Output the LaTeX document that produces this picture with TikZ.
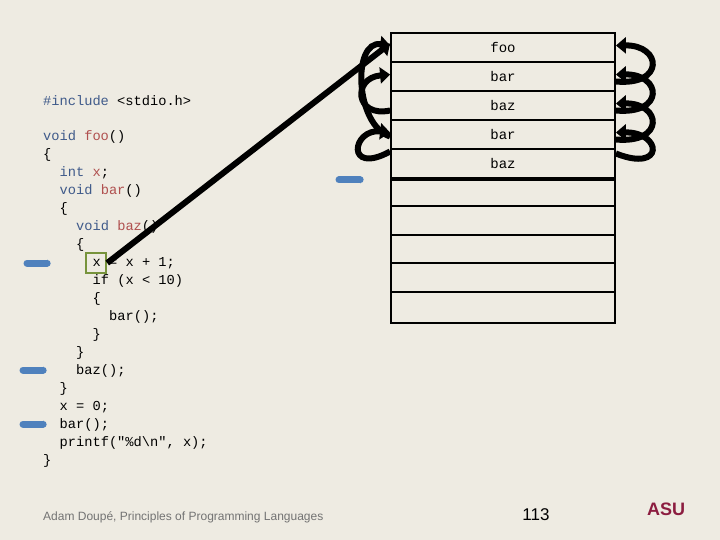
\documentclass[tikz,border=0pt]{standalone}
\usepackage{fontspec}
\setmainfont{Liberation Sans}
\newfontfamily\codefont{Liberation Mono}
\usetikzlibrary{arrows.meta}
\definecolor{bg}{HTML}{EEEBE2}
\definecolor{kw}{HTML}{3F5A8A}
\definecolor{idc}{HTML}{B0504F}
\definecolor{ptr}{HTML}{4F81BD}
\definecolor{asu}{HTML}{8C1D40}
\newcommand{\K}[1]{\textcolor{kw}{#1}}
\newcommand{\I}[1]{\textcolor{idc}{#1}}
\begin{document}
\begin{tikzpicture}[x=1pt,y=-1pt,
  code/.style={anchor=west,inner sep=0pt,font=\codefont\fontsize{13.7}{16}\selectfont},
  frame/.style={draw=black,line width=1.8pt,minimum width=224pt,minimum height=29pt,inner sep=0pt,font=\codefont\fontsize{14}{16}\selectfont},
  link/.style={line width=6pt,-{Triangle[length=10pt,width=16pt]}},
  pointer/.style={ptr,line width=7pt,line cap=round,-{Triangle[length=3pt,width=7pt]}}]
\fill[bg] (0,0) rectangle (720,540);
\useasboundingbox (0,0) rectangle (720,540);
% stack
\node[frame] (f1) at (503,47.5) {foo};
\node[frame] (f2) at (503,76.5) {bar};
\node[frame] (f3) at (503,105.5) {baz};
\node[frame] (f4) at (503,134.5) {bar};
\node[frame] (f5) at (503,163.5) {baz};
\node[draw=black,line width=1.8pt,minimum width=224pt,minimum height=143pt,inner sep=0pt,anchor=north] (f6) at (f5.south) {};
\foreach \y in {206,235,263,292} \draw[black,line width=1.8pt] (391,\y) -- (615,\y);
% code
\node[code] (c1) at (43,101) {\K{\#include} <stdio.h>};
\node[code] (c2) at (43,137) {\K{void} \I{foo}()};
\node[code] at (43,155) {\{};
\node[code] at (59.5,173) {\K{int} \I{x};};
\node[code] at (59.5,191) {\K{void} \I{bar}()};
\node[code] at (59.5,209) {\{};
\node[code] at (76,227) {\K{void} \I{baz}()};
\node[code] at (76,245) {\{};
\node[code] (cx) at (92.5,263) {x = x + 1;};
\node[code] at (92.5,281) {if (x < 10)};
\node[code] at (92.5,299) {\{};
\node[code] at (109,317) {bar();};
\node[code] at (92.5,335) {\}};
\node[code] at (76,353) {\}};
\node[code] at (76,371) {baz();};
\node[code] at (59.5,389) {\}};
\node[code] at (59.5,407) {x = 0;};
\node[code] at (59.5,425) {bar();};
\node[code] at (59.5,443) {printf("\%d\textbackslash n", x);};
\node[code] at (43,461) {\}};
% green box
\node[draw={rgb,255:red,119;green,147;blue,60},line width=2.5pt,minimum width=20pt,minimum height=20pt,inner sep=0pt] (gx) at (96,263) {};
% access link from code
\draw[link] (gx.east) -- ([yshift=4pt]f1.west);
% static links (left)
\draw[link] ([yshift=-5pt]f3.west) .. controls (355,118) and (352,78) .. ([yshift=2pt]f2.west);
\draw[link] ([yshift=-2pt]f4.west) .. controls (355,125) and (352,40) .. ([yshift=2pt]f1.west);
\draw[link] ([yshift=12pt]f5.west) .. controls (345,176) and (352,128) .. ([yshift=2pt]f4.west);
% dynamic links (right)
\draw[link] ([yshift=-5pt]f2.east) .. controls (665,86) and (662,45) .. ([yshift=2pt]f1.east);
\draw[link] ([yshift=-5pt]f3.east) .. controls (665,115) and (662,74) .. ([yshift=2pt]f2.east);
\draw[link] ([yshift=-5pt]f4.east) .. controls (665,144) and (662,103) .. ([yshift=2pt]f3.east);
\draw[link] ([yshift=10pt]f5.east) .. controls (665,173) and (662,132) .. ([yshift=2pt]f4.east);
% pointers
\coordinate (p1a) at (339,180); \coordinate (p1b) at (363,180);
\coordinate (p2a) at (27,263); \coordinate (p2b) at (50,263);
\coordinate (p3a) at (23,370); \coordinate (p3b) at (46,370);
\coordinate (p4a) at (23,424); \coordinate (p4b) at (46,424);
\draw[pointer] (p1a) -- (p1b);
\draw[pointer] (p2a) -- (p2b);
\draw[pointer] (p3a) -- (p3b);
\draw[pointer] (p4a) -- (p4b);
% footer
\node[anchor=west,inner sep=0pt,text=gray!90!black,font=\fontsize{12}{14}\selectfont] (ft) at (43,517) {Adam Doupé, Principles of Programming Languages};
\node[inner sep=0pt,font=\fontsize{17}{19}\selectfont] (pg) at (536,515) {113};
\node[inner sep=0pt,text=asu,font=\bfseries\fontsize{18}{19}\selectfont] (logo) at (666,509) {ASU};
\end{tikzpicture}
\end{document}
